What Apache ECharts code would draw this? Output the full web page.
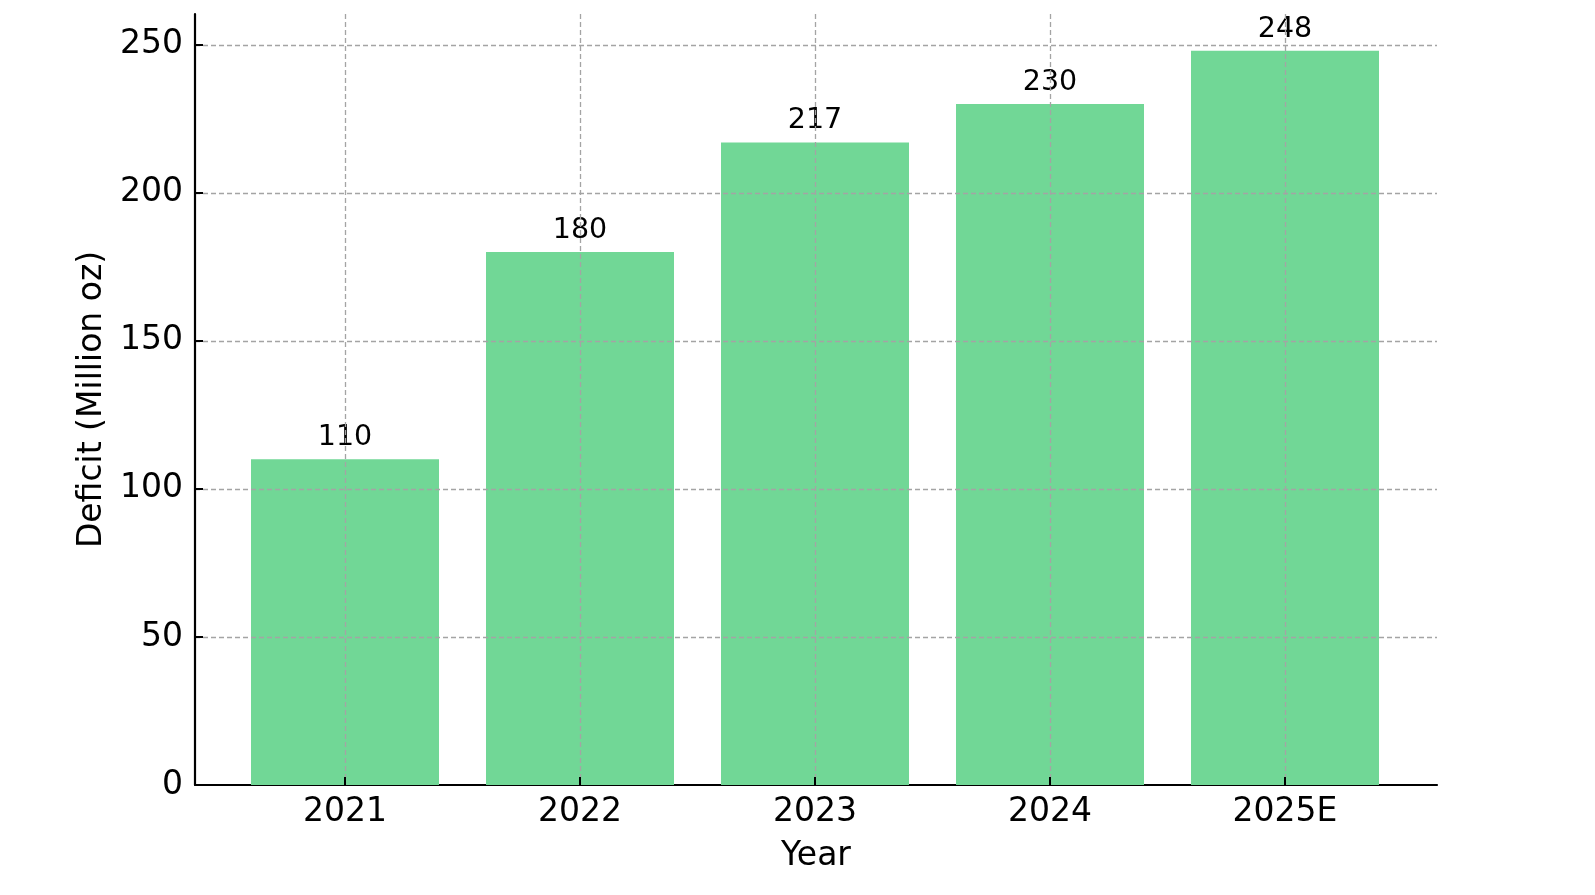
<!DOCTYPE html>
<html>
<head>
<meta charset="utf-8">
<script src="https://cdn.jsdelivr.net/npm/echarts@6/dist/echarts.min.js"></script>
<style>
  html, body { margin: 0; padding: 0; background: #fff; }
  #chart { width: 1595px; height: 895px; }
</style>
</head>
<body>
<div id="chart"></div>
<script>
  // data
  var years = ['2021', '2022', '2023', '2024', '2025E'];
  var deficit = [110, 180, 217, 230, 248];
  var yTicks = [0, 50, 100, 150, 200, 250];
  var yMax = 260.4;

  var font = 'DejaVu Sans';
  var gridColor = '#a4a4a4';
  var dash = [5, 3];

  var myChart = echarts.init(document.getElementById('chart'));

  myChart.setOption({
    backgroundColor: '#fff',
    animation: false,
    textStyle: { fontFamily: font, color: '#000' },
    grid: [
      // frame: spines, y ticks, horizontal grid
      { left: 195, right: 158, top: 14, bottom: 110 },
      // bars: category centres from first to last
      { left: 345, right: 310, top: 14, bottom: 110 }
    ],
    xAxis: [
      {
        gridIndex: 0, type: 'value', min: 0, max: 1,
        axisLine: { show: true, lineStyle: { color: '#000', width: 2.2 } },
        axisTick: { show: false }, axisLabel: { show: false },
        splitLine: { show: false },
        name: 'Year', nameLocation: 'middle', nameGap: 55,
        nameTextStyle: { fontFamily: font, fontSize: 33, color: '#000' }
      },
      {
        gridIndex: 1, type: 'category', data: years, boundaryGap: false, z: 5,
        axisLine: { show: false },
        axisTick: { show: true, inside: true, length: 8, lineStyle: { color: '#000', width: 2 } },
        axisLabel: { fontFamily: font, fontSize: 33, color: '#000', margin: 11 },
        splitLine: { show: true, lineStyle: { color: gridColor, type: dash, width: 1.3 } }
      }
    ],
    yAxis: [
      {
        gridIndex: 0, type: 'value', min: 0, max: yMax, interval: 50, z: 5,
        axisLine: { show: true, lineStyle: { color: '#000', width: 2.2 } },
        axisTick: { show: true, inside: true, length: 8, customValues: yTicks, lineStyle: { color: '#000', width: 2 } },
        axisLabel: { fontFamily: font, fontSize: 33, color: '#000', margin: 12, padding: [6, 0, 0, 0], customValues: yTicks },
        splitLine: { show: true, showMinLine: false, lineStyle: { color: gridColor, type: dash, width: 1.3 } },
        name: 'Deficit (Million oz)', nameLocation: 'middle', nameGap: 85, nameRotate: 90,
        nameTextStyle: { fontFamily: font, fontSize: 33, color: '#000' }
      },
      {
        gridIndex: 1, type: 'value', min: 0, max: yMax, show: false
      }
    ],
    series: [
      {
        type: 'bar',
        xAxisIndex: 1, yAxisIndex: 1,
        data: deficit,
        barWidth: 188,
        clip: false,
        itemStyle: { color: '#71d796' },
        label: {
          show: true, position: 'top', distance: 7,
          fontFamily: font, fontSize: 28.5, color: '#000'
        }
      }
    ]
  });
</script>
</body>
</html>
